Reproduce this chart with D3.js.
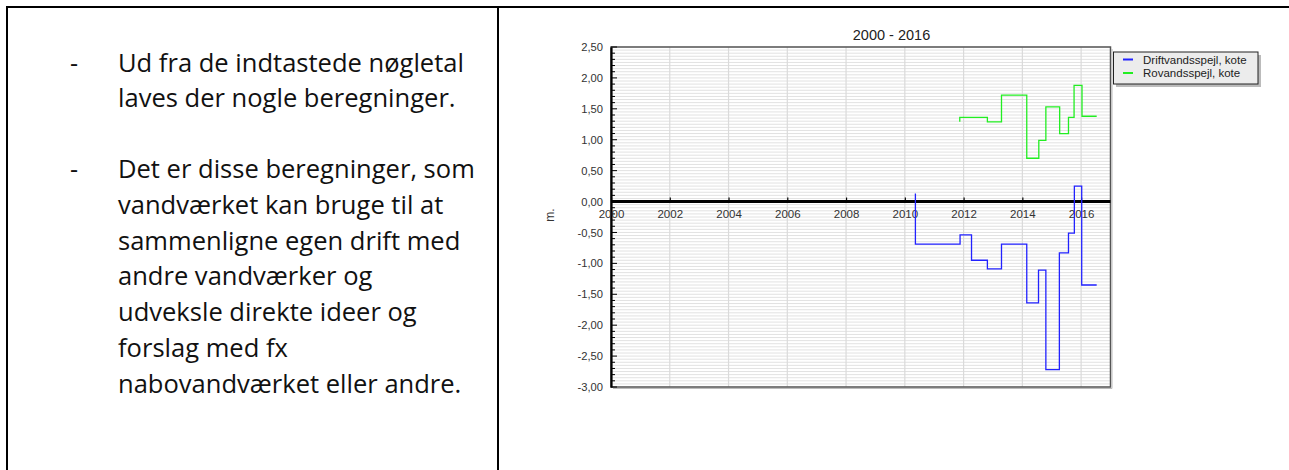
<!DOCTYPE html>
<html><head><meta charset="utf-8">
<script src="https://cdn.jsdelivr.net/npm/d3@7"></script>
<style>body{margin:0;background:#fff} svg{display:block}</style>
</head><body><svg id="c" width="1289" height="470"></svg>
<script>
// ---- data ----
const chartTitle = "2000 - 2016";
const yAxisLabel = "m.";
const xTickYears = [2000, 2002, 2004, 2006, 2008, 2010, 2012, 2014, 2016];
const yTickValues = [2.5, 2, 1.5, 1, 0.5, 0, -0.5, -1, -1.5, -2, -2.5, -3];
const seriesNames = ["Driftvandsspejl, kote", "Rovandsspejl, kote"];
const seriesColors = ["#2222ff", "#22ee22"];
const driftDates = [2010.36, 2011.88, 2012.27, 2012.81, 2013.29, 2014.15, 2014.55, 2014.80, 2015.26, 2015.57, 2015.77, 2016.02, 2016.53];
const driftValues = [0.13, -0.69, -0.54, -0.95, -1.09, -0.69, -1.64, -1.11, -2.72, -0.83, -0.51, 0.25, -1.35];
const roDates = [2011.87, 2012.81, 2013.29, 2014.15, 2014.56, 2014.80, 2015.27, 2015.57, 2015.76, 2016.03, 2016.53];
const roValues = [1.29, 1.36, 1.29, 1.72, 0.70, 0.99, 1.53, 1.10, 1.36, 1.88, 1.38];
const bullet1 = ["Ud fra de indtastede nøgletal", "laves der nogle beregninger."];
const bullet2 = ["Det er disse beregninger, som", "vandværket kan bruge til at", "sammenligne egen drift med", "andre vandværker og", "udveksle direkte ideer og", "forslag med fx", "nabovandværket eller andre."];

(function () {
const svg = d3.select("#c");

// ---- table frame ----
const frame = svg.append("g").attr("stroke", "#000").attr("stroke-width", 2);
frame.append("line").attr("x1", 6).attr("x2", 1289).attr("y1", 7).attr("y2", 7);
frame.append("line").attr("x1", 7).attr("x2", 7).attr("y1", 6).attr("y2", 470);
frame.append("line").attr("x1", 498).attr("x2", 498).attr("y1", 6).attr("y2", 470);

// ---- left text ----
const fs = 25;
const tg = svg.append("g").attr("font-family", "'Open Sans', Lato, sans-serif").attr("fill", "#111").attr("font-size", fs);
const probe = tg.append("text").text(bullet1[0]);
const w = probe.node().getComputedTextLength();
probe.remove();
const sx = 346 / w;
const lineH = 35.7;
const lines = [];
bullet1.forEach((t, i) => lines.push({t, y: 71.7 + i * lineH, dash: i === 0}));
bullet2.forEach((t, i) => lines.push({t, y: 178.3 + i * lineH, dash: i === 0}));
lines.forEach(l => {
  tg.append("text").attr("transform", `translate(118,${l.y}) scale(${sx},1)`).text(l.t);
  if (l.dash) tg.append("text").attr("x", 74).attr("y", l.y).attr("text-anchor", "middle").text("-");
});

// ---- chart ----
const pl = 611, pr = 1110.5, pt = 47, pb = 387;
const x = d3.scaleLinear().domain([2000, 2017]).range([pl, pr]);
const y = d3.scaleLinear().domain([-3, 2.5]).range([pb, pt]);
const cg = svg.append("g").attr("font-family", "'Liberation Sans', Arial, sans-serif");

// gridlines
const gridY = d3.range(-3, 2.5001, 0.05);
cg.append("g").selectAll("line").data(gridY).join("line")
  .attr("x1", pl).attr("x2", pr)
  .attr("y1", d => y(d)).attr("y2", d => y(d))
  .attr("stroke", "#e2e2e2").attr("stroke-width", 1);
cg.append("g").selectAll("line").data(xTickYears.slice(1)).join("line")
  .attr("x1", d => x(d)).attr("x2", d => x(d))
  .attr("y1", pt).attr("y2", pb)
  .attr("stroke", "#dadada").attr("stroke-width", 1.2);

// frame of plot
cg.append("rect").attr("x", pl).attr("y", pt).attr("width", pr - pl).attr("height", pb - pt)
  .attr("fill", "none").attr("stroke", "#555").attr("stroke-width", 1.5);
cg.append("line").attr("x1", pr + 1.5).attr("x2", pr + 1.5).attr("y1", pt + 2).attr("y2", pb + 1.5)
  .attr("stroke", "#bbb").attr("stroke-width", 1);
cg.append("line").attr("x1", pl + 2).attr("x2", pr + 1.5).attr("y1", pb + 1.5).attr("y2", pb + 1.5)
  .attr("stroke", "#bbb").attr("stroke-width", 1);

// y axis
const yAxis = d3.axisLeft(y).tickValues(yTickValues).tickSize(0)
  .tickFormat(d => d3.format(".2f")(d).replace(".", ",").replace("−", "-"));
const ya = cg.append("g").attr("transform", `translate(${pl},0)`).call(yAxis);
ya.select(".domain").attr("stroke", "#000").attr("stroke-width", 2.2);
ya.selectAll("text").attr("x", -8).attr("font-size", 11.2).attr("fill", "#333").attr("font-family", "'Liberation Sans', Arial, sans-serif");
// minor ticks
const minor = d3.range(-3, 2.5001, 0.1);
cg.append("g").selectAll("line").data(minor).join("line")
  .attr("x1", pl).attr("x2", d => Math.abs(Math.round(d * 10) % 5) === 0 ? pl + 6 : pl + 4)
  .attr("y1", d => y(d)).attr("y2", d => y(d))
  .attr("stroke", "#000").attr("stroke-width", 1);

// zero line and x axis
const xAxis = d3.axisTop(x).tickValues(xTickYears).tickSize(4).tickFormat(d3.format("d"));
const xa = cg.append("g").attr("transform", `translate(0,${y(0)})`).call(xAxis);
xa.select(".domain").remove();
xa.selectAll(".tick line").attr("stroke", "#000").attr("stroke-width", 1.2);
xa.selectAll("text").attr("y", 16).attr("dy", 0).attr("font-size", 11.5).attr("fill", "#333")
  .attr("font-family", "'Liberation Sans', Arial, sans-serif");
cg.append("line").attr("x1", pl).attr("x2", pr).attr("y1", y(0)).attr("y2", y(0))
  .attr("stroke", "#000").attr("stroke-width", 3);

// series
const line = d3.line().x(d => x(d[0])).y(d => y(d[1])).curve(d3.curveStepBefore);
const series = [d3.zip(driftDates, driftValues), d3.zip(roDates, roValues)];
series.forEach((s, i) => {
  cg.append("path").datum(s).attr("d", line).attr("fill", "none")
    .attr("stroke", seriesColors[i]).attr("stroke-width", 1.3);
});

// title
cg.append("text").attr("x", 891.5).attr("y", 40).attr("text-anchor", "middle")
  .attr("font-size", 14.5).attr("fill", "#222").text(chartTitle);

// y label
cg.append("text").attr("transform", `translate(554,215) rotate(-90)`).attr("text-anchor", "middle")
  .attr("font-size", 12).attr("fill", "#333").text(yAxisLabel);

// legend
const lg = cg.append("g");
lg.append("rect").attr("x", 1116).attr("y", 55).attr("width", 145).attr("height", 32).attr("fill", "#bbb");
lg.append("rect").attr("x", 1113.5).attr("y", 52).attr("width", 144.5).attr("height", 32)
  .attr("fill", "#ececec").attr("stroke", "#222").attr("stroke-width", 1);
seriesNames.forEach((n, i) => {
  const yy = 59.5 + i * 13.5;
  lg.append("line").attr("x1", 1123).attr("x2", 1133).attr("y1", yy).attr("y2", yy)
    .attr("stroke", seriesColors[i]).attr("stroke-width", 2);
  lg.append("text").attr("x", 1143).attr("y", yy + 4).attr("font-size", 11.5).attr("fill", "#222").text(n);
});
})();
</script></body></html>
